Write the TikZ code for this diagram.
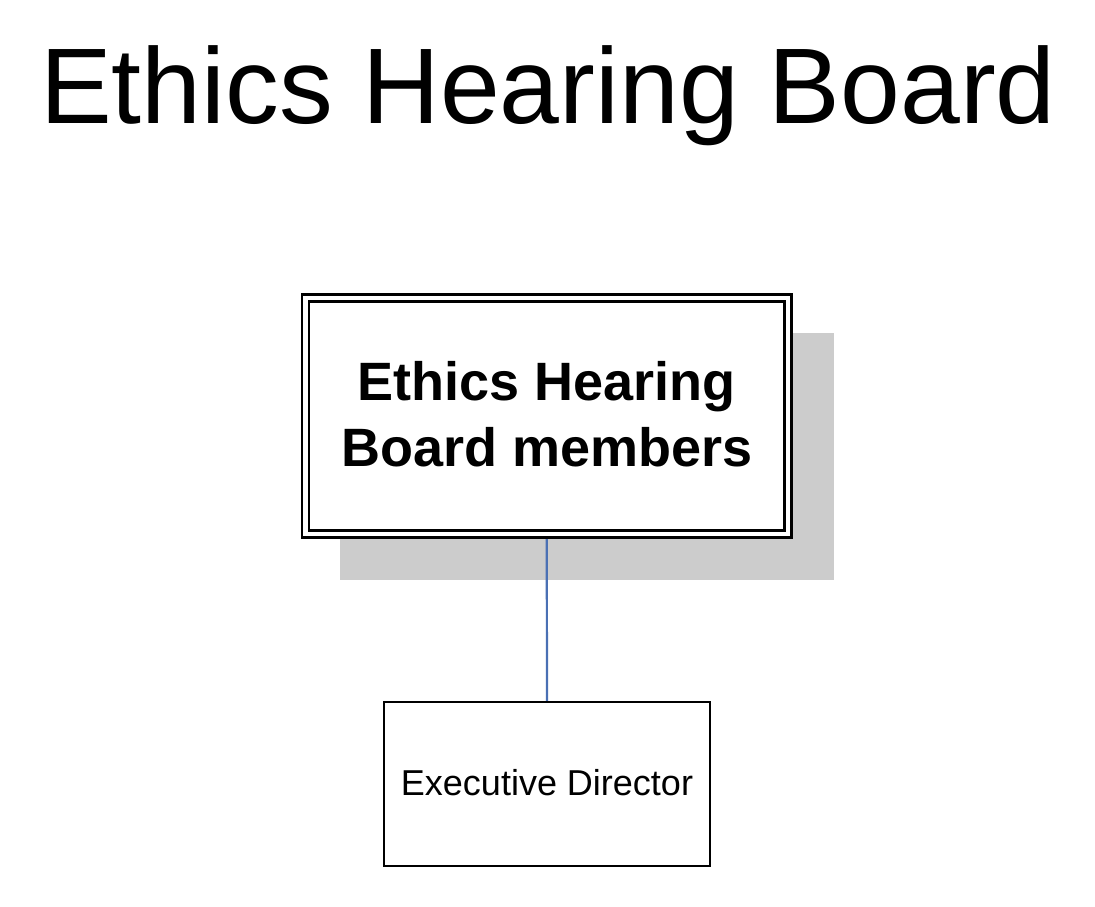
\documentclass[tikz,border=0pt]{standalone}
\usepackage{fontspec}
\setmainfont{Liberation Sans}
\usetikzlibrary{backgrounds}
\definecolor{linkblue}{HTML}{4A70B4}
\definecolor{shadowgray}{HTML}{CCCCCC}
\tikzset{
  titletext/.style={anchor=base, inner sep=0pt, font=\fontsize{107.5}{120}\selectfont},
  boardbox/.style={draw=black, line width=2.3pt, double=white, double distance=4.6pt,
    fill=white, minimum width=482.5pt, minimum height=236pt, inner sep=0pt, outer sep=4.6pt,
    align=center, text height=105.4pt, text depth=4pt,
    font=\bfseries\fontsize{54}{66.7}\selectfont},
  edbox/.style={draw=black, line width=2pt, fill=white, minimum width=326pt, minimum height=164pt,
    inner sep=0pt, text height=26pt, text depth=4pt, font=\fontsize{36}{40}\selectfont},
  link/.style={draw=linkblue, line width=2.2pt},
  shadowbox/.style={fill=shadowgray}
}
\begin{document}
\begin{tikzpicture}[x=1pt,y=-1pt]
\useasboundingbox (0,0) rectangle (1095,906);
\node[titletext] (title) at (548,123) {Ethics Hearing Board};
\node[boardbox] (board) at (546.75,416) {Ethics Hearing\\Board members};
\node[edbox] (ed) at (547,784) {Executive Director};
\begin{scope}[on background layer]
  \fill[shadowbox] (340,333) rectangle (834,580);
  \draw[link] (board.south) -- (ed.north);
\end{scope}
\end{tikzpicture}
\end{document}
